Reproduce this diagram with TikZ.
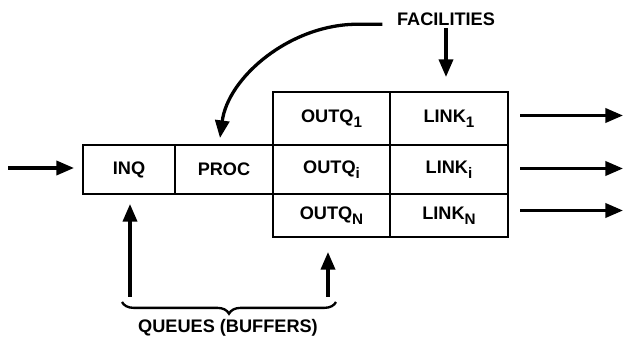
\documentclass[tikz,border=0pt]{standalone}
\usepackage{fontspec}
\setmainfont{Liberation Sans}
\usetikzlibrary{arrows.meta,positioning,calc,decorations.pathreplacing}

\newcommand{\lowsub}[1]{\raisebox{-0.55ex}{\fontsize{13}{13}\selectfont #1}}

\begin{document}
\begin{tikzpicture}[
  x=0.03cm, y=0.03cm,
  font=\fontsize{15.5}{18}\selectfont\bfseries,
  >={Triangle[length=15pt, width=12pt]},
  node distance=0pt,
  cell/.style={draw, line width=2pt, outer sep=0pt, inner sep=0pt, minimum height=1.47cm, align=center},
  flow/.style={->, line width=2.8pt},
]
\useasboundingbox (0,0) rectangle (623,342);

% input queue and processor
\node[cell, minimum width=2.76cm] (inq) at (129,172.5) {INQ};
\node[cell, minimum width=2.94cm, right=of inq] (proc) {PROC};

% output queues and links (middle row first)
\node[cell, minimum width=3.51cm, right=of proc]  (outqi) {OUTQ\lowsub{i}};
\node[cell, minimum width=3.54cm, right=of outqi] (linki) {LINK\lowsub{i}};
\node[cell, minimum width=3.51cm, minimum height=1.59cm, above=of outqi] (outq1) {OUTQ\lowsub{1}};
\node[cell, minimum width=3.54cm, minimum height=1.59cm, above=of linki] (link1) {LINK\lowsub{1}};
\node[cell, minimum width=3.51cm, minimum height=1.29cm, below=of outqi] (outqn) {OUTQ\lowsub{N}};
\node[cell, minimum width=3.54cm, minimum height=1.29cm, below=of linki] (linkn) {LINK\lowsub{N}};

% labels
\node[inner sep=2pt] (fac) at (446,323) {FACILITIES};
\node (queues) at (228,14) {QUEUES (BUFFERS)};

% brace ends and free arrow ends
\coordinate (bl) at (122,40);
\coordinate (br) at (336,40);
\coordinate (qleft) at (130,45);
\coordinate (qright) at (328,45);
\coordinate (in) at (8,174);

% incoming traffic
\draw[flow, shorten >=0.27cm] (in) -- (in -| inq.west);

% outgoing traffic
\draw[flow] ($(link1.east)+(12,3)$)  -- ++(103,0);
\draw[flow] ($(linki.east)+(12,1)$)  -- ++(103,0);
\draw[flow] ($(linkn.east)+(12,5)$)  -- ++(103,0);

% facilities pointers
\draw[flow] ($(fac.base west)+(-12,1)$) -- ++(-25,0) .. controls ++(-67,0) and ($(proc.north)+(4,68)$) .. ($(proc.north)+(-4,7)$);
\draw[flow, shorten >=0.45cm] (fac.south) -- (fac.south |- link1.north);

% queues pointers
\draw[flow, shorten >=0.3cm] (qleft) -- (qleft |- inq.south);
\draw[flow, shorten >=0.45cm] (qright) -- (qright |- outqn.south);
\draw[line width=2pt, decorate, decoration={brace, mirror, amplitude=10pt}] (bl) -- (br);

\end{tikzpicture}
\end{document}
